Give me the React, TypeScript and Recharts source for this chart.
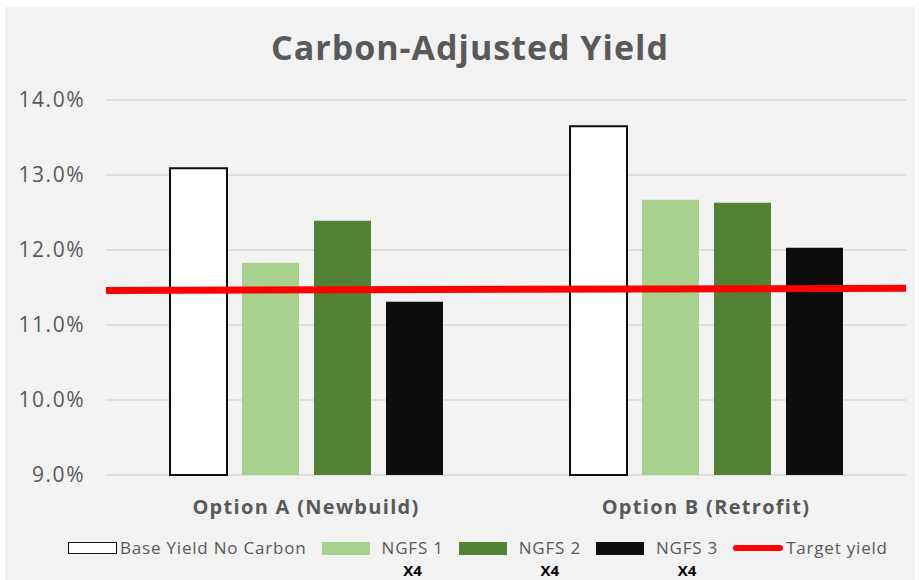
import React from 'react';
import {
  ComposedChart,
  Bar,
  Line,
  XAxis,
  YAxis,
  CartesianGrid,
} from 'recharts';

const categories = ['Option A (Newbuild)', 'Option B (Retrofit)'];
const baseYield = [13.09, 13.65];
const ngfs1 = [11.83, 12.67];
const ngfs2 = [12.39, 12.63];
const ngfs3 = [11.31, 12.03];
const targetPos = [0, 1];
const targetYield = [11.46, 11.49];
const yTicks = [9, 10, 11, 12, 13, 14];

const data = categories.map((name, i) => ({
  name,
  base: baseYield[i],
  ngfs1: ngfs1[i],
  ngfs2: ngfs2[i],
  ngfs3: ngfs3[i],
}));

const targetData = targetPos.map((x, i) => ({ x, target: targetYield[i] }));

const FONT = '"Open Sans", Lato, sans-serif';
const GREY = '#595959';

const legendItems = [
  { label: 'Base Yield No Carbon', kind: 'outline', fill: '#ffffff', note: '' },
  { label: 'NGFS 1', kind: 'box', fill: '#a9d18e', note: 'X4' },
  { label: 'NGFS 2', kind: 'box', fill: '#548235', note: 'X4' },
  { label: 'NGFS 3', kind: 'box', fill: '#0d0d0d', note: 'X4' },
  { label: 'Target yield', kind: 'line', fill: '#ff0000', note: '' },
];

const Swatch = ({ kind, fill }: { kind: string; fill: string }) => {
  if (kind === 'line')
    return <div style={{ width: 50, height: 6, marginTop: 7, background: fill, borderRadius: 3, marginRight: 3 }} />;
  if (kind === 'outline')
    return (
      <div
        style={{ width: 47, height: 10, marginTop: 3.5, background: fill, border: '1.5px solid #0d0d0d', marginRight: 3 }}
      />
    );
  return <div style={{ width: 48, height: 13, marginTop: 3.5, background: fill, marginRight: 12 }} />;
};

const ChartLegend = () => (
  <div
    style={{
      position: 'absolute',
      left: 63,
      top: 531,
      display: 'flex',
      fontFamily: FONT,
      fontSize: 17,
      color: GREY,
    }}
  >
    {legendItems.map((it) => (
      <div key={it.label} style={{ display: 'flex', alignItems: 'flex-start', marginRight: 15 }}>
        <Swatch kind={it.kind} fill={it.fill} />
        <div style={{ display: 'flex', flexDirection: 'column', alignItems: 'center' }}>
          <span style={{ letterSpacing: 0.8, lineHeight: '20px' }}>{it.label}</span>
          {it.note && (
            <span style={{ color: '#000', fontWeight: 700, fontSize: 15, lineHeight: '15px', marginTop: 4.5 }}>
              {it.note}
            </span>
          )}
        </div>
      </div>
    ))}
  </div>
);

export default function App() {
  return (
    <div
      style={{
        position: 'absolute',
        left: 5,
        top: 7,
        width: 910,
        height: 573,
        background: '#f2f2f2',
        overflow: 'hidden',
      }}
    >
      <div
        style={{
          position: 'absolute',
          top: 20,
          width: 930,
          textAlign: 'center',
          fontFamily: FONT,
          fontWeight: 700,
          fontSize: 34,
          lineHeight: '40px',
          letterSpacing: 1,
          color: GREY,
        }}
      >
        Carbon-Adjusted Yield
      </div>
      <ComposedChart
        width={910}
        height={573}
        data={data}
        margin={{ top: 93, right: 9, bottom: 75, left: 0 }}
        barGap={15}
        barCategoryGap="15.75%"
      >
        <CartesianGrid vertical={false} stroke="#d9d9d9" strokeWidth={1.5} />
        <XAxis
          dataKey="name"
          height={30}
          axisLine={false}
          tickLine={false}
          tickSize={0}
          tickMargin={25}
          tick={{ fill: GREY, fontSize: 20, fontWeight: 700, fontFamily: FONT, letterSpacing: 1.3 }}
        />
        <XAxis xAxisId="t" type="number" dataKey="x" domain={[0, 1]} hide />
        <YAxis
          domain={[9, 14]}
          ticks={yTicks}
          width={101}
          axisLine={false}
          tickLine={false}
          tickSize={0}
          tickMargin={21}
          tickFormatter={(v: number) => v.toFixed(1) + '%'}
          tick={{ fill: GREY, fontSize: 21, fontFamily: FONT, letterSpacing: 1.5 }}
        />
        <Bar dataKey="base" fill="#ffffff" stroke="#0d0d0d" strokeWidth={2} barSize={57} isAnimationActive={false} />
        <Bar dataKey="ngfs1" fill="#a9d18e" barSize={57} isAnimationActive={false} />
        <Bar dataKey="ngfs2" fill="#548235" barSize={57} isAnimationActive={false} />
        <Bar dataKey="ngfs3" fill="#0d0d0d" barSize={57} isAnimationActive={false} />
        <Line
          xAxisId="t"
          data={targetData}
          dataKey="target"
          stroke="#ff0000"
          strokeWidth={7}
          dot={false}
          isAnimationActive={false}
        />
      </ComposedChart>
      <ChartLegend />
    </div>
  );
}
